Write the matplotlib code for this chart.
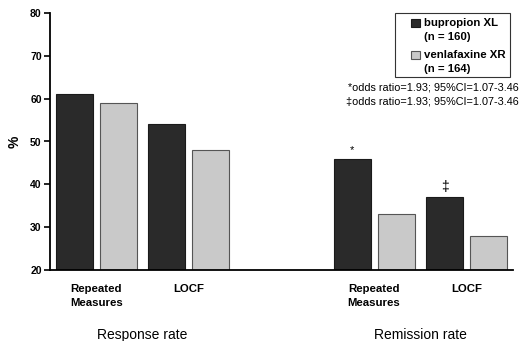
import matplotlib
matplotlib.use("Agg")
from matplotlib import pyplot as plt
from matplotlib.patches import Rectangle
import numpy as np

# data
categories = ["Repeated\nMeasures", "LOCF", "Repeated\nMeasures", "LOCF"]
groups = ["Response rate", "Remission rate"]
bupropion = [61, 54, 46, 37]
venlafaxine = [59, 48, 33, 28]
series_names = ["bupropion XL", "venlafaxine XR"]
series_n = ["(n = 160)", "(n = 164)"]
marks = ["", "", "*", "\u2021"]
notes = ["*odds ratio=1.93; 95%CI=1.07-3.46", "\u2021odds ratio=1.93; 95%CI=1.07-3.46"]

plt.rcParams["font.family"] = ["Liberation Sans", "DejaVu Sans"]

W, H = 522, 341
fig = plt.figure(figsize=(W / 100, H / 100), dpi=100)
ax = fig.add_axes([50 / W, 71 / H, 463 / W, 257 / H])

pos = np.array([0, 1, 3, 4])
w = 0.4
off = 0.237
dark = "#2a2a2a"
light = "#c9c9c9"
dark_edge = "#1a1a1a"
light_edge = "#555555"

ax.bar(pos - off, np.array(bupropion) - 20, w, bottom=20, color=dark,
       edgecolor=dark_edge, linewidth=0.8)
ax.bar(pos + off, np.array(venlafaxine) - 20, w, bottom=20, color=light,
       edgecolor=light_edge, linewidth=0.8)

for p, v, m in zip(pos, bupropion, marks):
    if m:
        ax.text(p - off, v + 0.8, m, ha="center", va="bottom",
                fontsize=8 if m == "*" else 10)

ax.set_xlim(-0.5, 4.5)
ax.set_ylim(20, 80)
ax.set_yticks(range(20, 81, 10))
ax.set_xticks([])
for t in ax.get_yticklabels():
    t.set_fontweight("bold")
    t.set_fontsize(7.5)
ax.tick_params(axis="y", direction="out", length=4, width=1.2, pad=2)
for s in ["top", "right"]:
    ax.spines[s].set_visible(False)
ax.spines["left"].set_linewidth(1.3)
ax.spines["bottom"].set_linewidth(1.3)
ax.set_ylabel("%", fontsize=10, fontweight="bold", labelpad=6)

for p, c in zip(pos, categories):
    ax.text(p, -0.055, c, transform=ax.get_xaxis_transform(), ha="center",
            va="top", fontsize=8.2, fontweight="bold", linespacing=1.5)
for x, g in zip([0.5, 3.5], groups):
    ax.text(x, -0.225, g, transform=ax.get_xaxis_transform(), ha="center",
            va="top", fontsize=10)

# legend box drawn by hand so the swatch sits on the first line
fig.patches.append(Rectangle((395 / W, 1 - 77 / H), 115 / W, 64 / H,
                             transform=fig.transFigure, fill=False,
                             edgecolor="#333333", linewidth=0.8))
for i, (name, n, fc, ec) in enumerate(zip(series_names, series_n,
                                          [dark, light], [dark_edge, light_edge])):
    y0 = 23 + i * 32
    fig.patches.append(Rectangle((411 / W, 1 - (y0 + 4) / H), 9 / W, 8 / H,
                                 transform=fig.transFigure, facecolor=fc,
                                 edgecolor=ec, linewidth=0.8))
    fig.text(424 / W, 1 - y0 / H, name, ha="left", va="center",
             fontsize=8.2, fontweight="bold")
    fig.text(424 / W, 1 - (y0 + 14) / H, n, ha="left", va="center",
             fontsize=8.2, fontweight="bold")

for i, n in enumerate(notes):
    fig.text(519 / W, 1 - (88 + i * 14) / H, n, ha="right", va="center",
             fontsize=7.8)

fig.savefig("out.png", dpi=100)
